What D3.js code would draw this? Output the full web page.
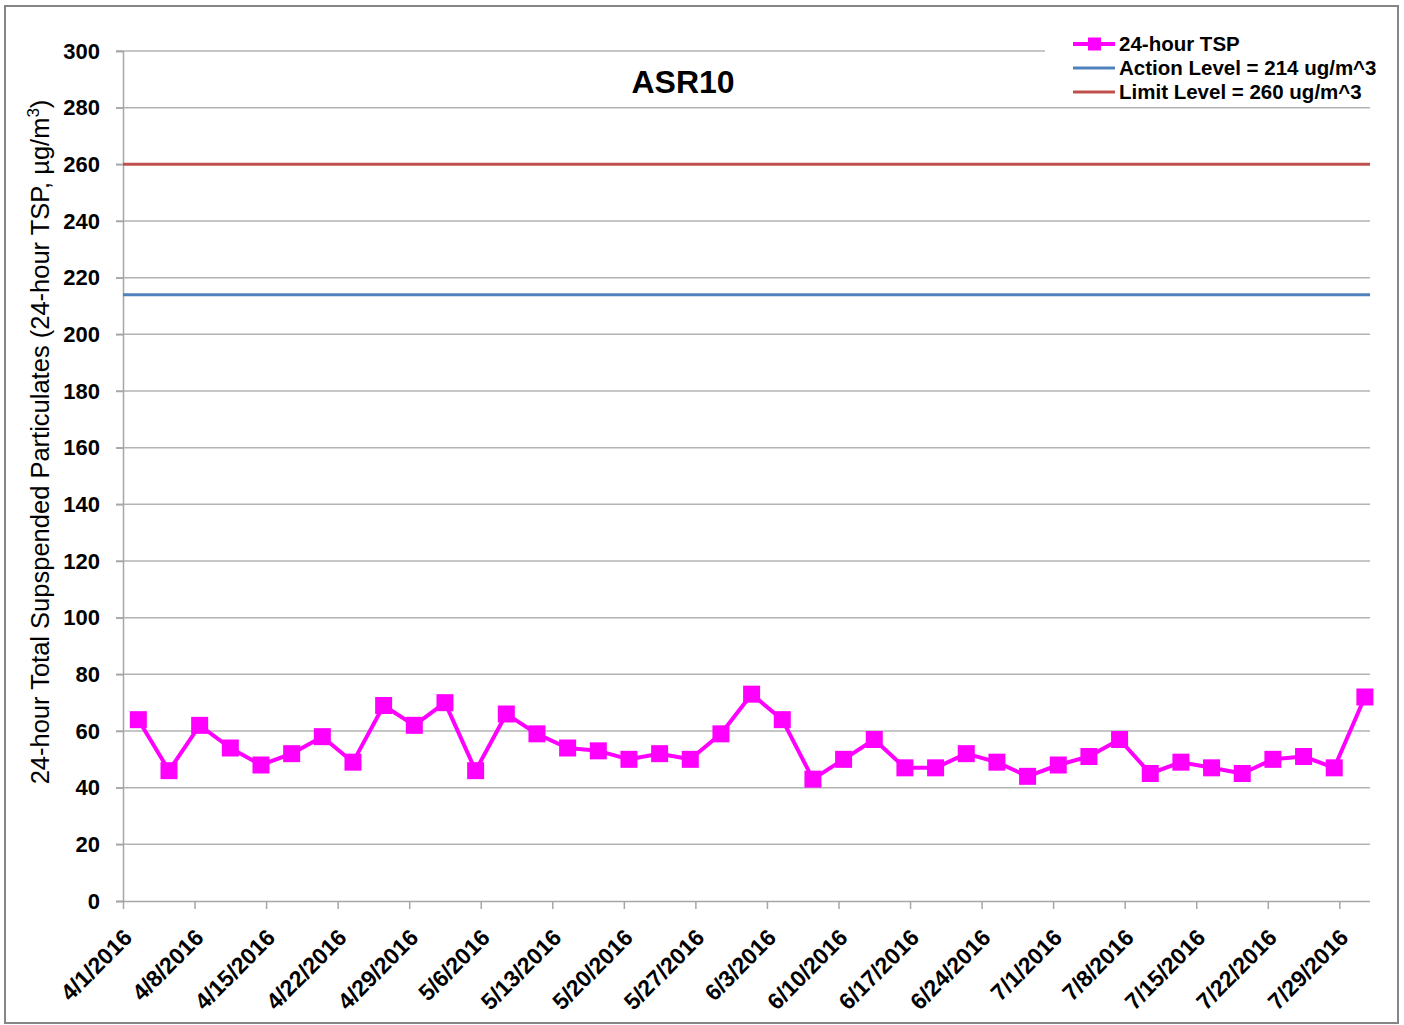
<!DOCTYPE html>
<html>
<head>
<meta charset="utf-8">
<script src="https://cdn.jsdelivr.net/npm/d3@7"></script>
<style>
  body { margin: 0; background: #fff; }
  text { font-family: Arial, "Liberation Sans", sans-serif; }
</style>
</head>
<body>
<svg id="drawing_region"></svg>
<script>
// sample dates (every 3rd day) and 24-hour TSP readings, ug/m3
var sampleDates = [
    '2016-04-02', '2016-04-05', '2016-04-08', '2016-04-11', '2016-04-14', '2016-04-17',
    '2016-04-20', '2016-04-23', '2016-04-26', '2016-04-29', '2016-05-02', '2016-05-05',
    '2016-05-08', '2016-05-11', '2016-05-14', '2016-05-17', '2016-05-20', '2016-05-23',
    '2016-05-26', '2016-05-29', '2016-06-01', '2016-06-04', '2016-06-07', '2016-06-10',
    '2016-06-13', '2016-06-16', '2016-06-19', '2016-06-22', '2016-06-25', '2016-06-28',
    '2016-07-01', '2016-07-04', '2016-07-07', '2016-07-10', '2016-07-13', '2016-07-16',
    '2016-07-19', '2016-07-22', '2016-07-25', '2016-07-28', '2016-07-31'
];
var tspValues = [
    64, 46, 62, 54, 48, 52, 58, 49, 69, 62, 70, 46,
    66, 59, 54, 53, 50, 52, 50, 59, 73, 64, 43, 50,
    57, 47, 47, 52, 49, 44, 48, 51, 57, 45, 49, 47,
    45, 50, 51, 47, 72
];
var tickDates = [
    '2016-04-01', '2016-04-08', '2016-04-15', '2016-04-22', '2016-04-29', '2016-05-06',
    '2016-05-13', '2016-05-20', '2016-05-27', '2016-06-03', '2016-06-10', '2016-06-17',
    '2016-06-24', '2016-07-01', '2016-07-08', '2016-07-15', '2016-07-22', '2016-07-29'
];
var yTicks = [0, 20, 40, 60, 80, 100, 120, 140, 160, 180, 200, 220, 240, 260, 280, 300];
var actionLevel = 214;
var limitLevel = 260;
var seriesNames = ['24-hour TSP', 'Action Level = 214 ug/m^3', 'Limit Level = 260 ug/m^3'];

var Config = {
    width: 1404,
    height: 1025,
    plot: { left: 123, right: 1370, top: 51, bottom: 901 }
};

const parse = d3.utcParse('%Y-%m-%d');
const fmt = d3.utcFormat('%-m/%-d/%Y');
const halfDay = 12 * 3600 * 1000;

const svg = d3.select('#drawing_region')
    .attr('width', Config.width)
    .attr('height', Config.height);

// outer chart border
svg.append('rect')
    .attr('x', 5).attr('y', 6)
    .attr('width', 1393).attr('height', 1017)
    .attr('fill', '#fff')
    .attr('stroke', '#868686')
    .attr('stroke-width', 2);

const p = Config.plot;
const x = d3.scaleUtc()
    .domain([parse('2016-04-01'), parse('2016-08-01')])
    .range([p.left, p.right]);
const y = d3.scaleLinear()
    .domain([0, 300])
    .range([p.bottom, p.top]);

// horizontal gridlines
svg.append('g')
    .selectAll('line')
    .data(yTicks.filter(d => d > 0))
    .join('line')
    .attr('x1', p.left - 7).attr('x2', p.right)
    .attr('y1', d => y(d)).attr('y2', d => y(d))
    .attr('stroke', '#b3b3b3')
    .attr('stroke-width', 1.5);

// y axis
const yAxis = svg.append('g')
    .attr('transform', `translate(${p.left},0)`)
    .call(d3.axisLeft(y).tickValues(yTicks).tickSize(7).tickPadding(16));
yAxis.select('.domain').attr('stroke', '#a6a6a6').attr('stroke-width', 1.5);
yAxis.selectAll('.tick line').attr('stroke', '#a6a6a6').attr('stroke-width', 1.5);
yAxis.selectAll('.tick text')
    .attr('font-size', 22)
    .attr('font-weight', 'bold')
    .attr('fill', '#000')
    .attr('font-family', 'Arial, "Liberation Sans", sans-serif');

// x axis
const xAxis = svg.append('g')
    .attr('transform', `translate(0,${p.bottom})`)
    .call(d3.axisBottom(x).tickValues(tickDates.map(parse)).tickSize(8).tickFormat(fmt));
xAxis.select('.domain').attr('stroke', '#a6a6a6').attr('stroke-width', 1.5)
    .attr('d', `M${p.left - 7},0.5H${p.right}`);
xAxis.selectAll('.tick line').attr('stroke', '#a6a6a6').attr('stroke-width', 1.5);
xAxis.selectAll('.tick text')
    .attr('font-size', 23)
    .attr('font-weight', 'bold')
    .attr('fill', '#000')
    .attr('font-family', 'Arial, "Liberation Sans", sans-serif')
    .attr('text-anchor', 'end')
    .attr('y', 0).attr('dy', 0)
    .attr('transform', 'translate(10,38) rotate(-45)');

// action / limit levels
const levels = [
    { value: actionLevel, color: '#4f81bd' },
    { value: limitLevel, color: '#c0504d' }
];
svg.append('g')
    .selectAll('line')
    .data(levels)
    .join('line')
    .attr('x1', p.left).attr('x2', p.right)
    .attr('y1', d => y(d.value)).attr('y2', d => y(d.value))
    .attr('stroke', d => d.color)
    .attr('stroke-width', 3);

// TSP series
const points = sampleDates.map((d, i) => ({ date: parse(d), value: tspValues[i] }));
const px = d => x(new Date(d.date.getTime() + halfDay));
svg.append('path')
    .datum(points)
    .attr('fill', 'none')
    .attr('stroke', '#ff00ff')
    .attr('stroke-width', 4)
    .attr('stroke-linejoin', 'round')
    .attr('d', d3.line().x(px).y(d => y(d.value)));
svg.append('g')
    .selectAll('rect')
    .data(points)
    .join('rect')
    .attr('x', d => px(d) - 8.5)
    .attr('y', d => y(d.value) - 8.5)
    .attr('width', 17).attr('height', 17)
    .attr('fill', '#ff00ff');

// title
svg.append('text')
    .attr('x', 683).attr('y', 93)
    .attr('text-anchor', 'middle')
    .attr('font-size', 32)
    .attr('font-weight', 'bold')
    .text('ASR10');

// y axis title
const yTitle = svg.append('text')
    .attr('transform', 'translate(49,442) rotate(-90)')
    .attr('text-anchor', 'middle')
    .attr('font-size', 25.5);
yTitle.append('tspan').text('24-hour Total Supspended Particulates (24-hour TSP, \u00b5g/m');
yTitle.append('tspan').attr('dy', -10).attr('font-size', 17).text('3');
yTitle.append('tspan').attr('dy', 10).text(')');

// legend
const legend = svg.append('g').attr('transform', 'translate(1045,30)');
legend.append('rect')
    .attr('width', 350).attr('height', 72)
    .attr('fill', '#fff');
const legendColors = ['#ff00ff', '#4f81bd', '#c0504d'];
const rows = legend.selectAll('g.row')
    .data(seriesNames)
    .join('g')
    .attr('class', 'row')
    .attr('transform', (d, i) => `translate(0,${14 + i * 24})`);
rows.append('line')
    .attr('x1', 28).attr('x2', 70)
    .attr('stroke', (d, i) => legendColors[i])
    .attr('stroke-width', (d, i) => i === 0 ? 4 : 3);
rows.filter((d, i) => i === 0).append('rect')
    .attr('x', 43).attr('y', -6.5)
    .attr('width', 13).attr('height', 13)
    .attr('fill', '#ff00ff');
rows.append('text')
    .attr('x', 74).attr('dy', '0.35em')
    .attr('font-size', 20.5)
    .attr('font-weight', 'bold')
    .text(d => d);
</script>
</body>
</html>
